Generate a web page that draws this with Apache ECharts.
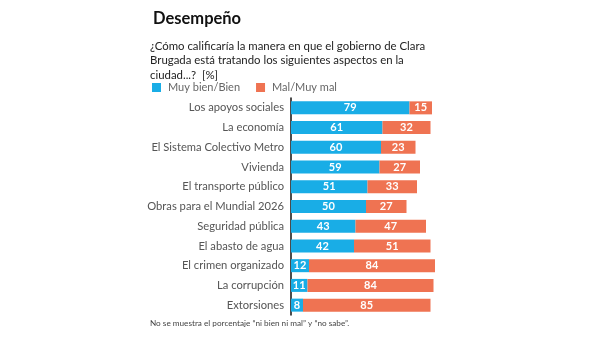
<!DOCTYPE html>
<html>
<head>
<meta charset="utf-8">
<script src="https://cdn.jsdelivr.net/npm/echarts@6/dist/echarts.min.js"></script>
<style>html,body{margin:0;padding:0;background:#fff}#c{width:600px;height:337px}</style>
</head>
<body>
<div id="c"></div>
<script>
const categories = ["Los apoyos sociales","La economía","El Sistema Colectivo Metro","Vivienda","El transporte público","Obras para el Mundial 2026","Seguridad pública","El abasto de agua","El crimen organizado","La corrupción","Extorsiones"];
const bien = [79,61,60,59,51,50,43,42,12,11,8];
const mal = [15,32,23,27,33,27,47,51,84,84,85];
const seriesNames = ["Muy bien/Bien","Mal/Muy mal"];

const FONT = "Lato";
const chart = echarts.init(document.getElementById('c'));
chart.setOption({
  animation: false,
  title: [
    {text: "Desempeño", left: 153, top: 10, padding: 0, textStyle: {fontFamily: FONT, fontSize: 16.5, fontWeight: 'bold', color: '#111'}},
    {text: "¿Cómo calificaría la manera en que el gobierno de Clara\nBrugada está tratando los siguientes aspectos en la\nciudad...?  [%]", left: 150, top: 39, padding: 0, textStyle: {fontFamily: FONT, fontSize: 11.4, fontWeight: 'normal', color: '#222', lineHeight: 14.5}},
    {text: "No se muestra el porcentaje \u201cni bien ni mal\u201d y \u201cno sabe\u201d.", left: 150, top: 319, padding: 0, textStyle: {fontFamily: FONT, fontSize: 8.2, fontWeight: 'normal', color: '#444'}}
  ],
  legend: {
    data: seriesNames, left: 152, top: 82, padding: 0, icon: 'rect', itemWidth: 9, itemHeight: 9, itemGap: 16,
    textStyle: {fontFamily: FONT, fontSize: 11, color: '#666', padding: [0,0,0,2]}
  },
  grid: {left: 291, top: 98, width: 150, height: 217, containLabel: false},
  xAxis: {type: 'value', min: 0, max: 100, show: false},
  yAxis: {
    type: 'category', data: categories, inverse: true,
    axisLine: {show: true, lineStyle: {color: '#111', width: 1.5}},
    axisTick: {show: false},
    axisLabel: {margin: 7, fontFamily: FONT, fontSize: 11.2, color: '#555'}
  },
  series: [
    {name: seriesNames[0], type: 'bar', stack: 's', data: bien, barWidth: 13, itemStyle: {color: '#19ade6'},
     label: {show: true, position: 'inside', color: '#fff', fontFamily: FONT, fontWeight: 'bold', fontSize: 11}},
    {name: seriesNames[1], type: 'bar', stack: 's', data: mal, barWidth: 13, itemStyle: {color: '#ef7352'},
     label: {show: true, position: 'inside', color: '#fff', fontFamily: FONT, fontWeight: 'bold', fontSize: 11}}
  ]
});
</script>
</body>
</html>
